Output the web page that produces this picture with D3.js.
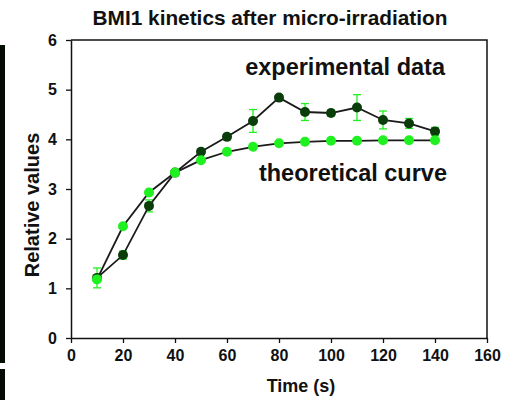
<!DOCTYPE html>
<html>
<head>
<meta charset="utf-8">
<script src="https://cdn.jsdelivr.net/npm/d3@7"></script>
<style>
  html, body { margin: 0; padding: 0; background: #fff; }
  svg { display: block; }
  text { font-family: "Liberation Sans", Arial, sans-serif; font-weight: bold; }
</style>
</head>
<body>
<svg id="chart" width="512" height="400"></svg>
<script>
const times = [10, 20, 30, 40, 50, 60, 70, 80, 90, 100, 110, 120, 130, 140];
const experimental = [1.21, 1.67, 2.66, 3.33, 3.75, 4.05, 4.37, 4.84, 4.55, 4.53, 4.64, 4.39, 4.32, 4.16];
const experimentalErr = [0.2, 0.08, 0.12, 0.05, 0.05, 0.05, 0.23, 0.05, 0.17, 0.06, 0.26, 0.18, 0.1, 0.08];
const theoretical = [1.18, 2.25, 2.93, 3.33, 3.58, 3.75, 3.85, 3.92, 3.95, 3.97, 3.97, 3.98, 3.98, 3.98];
const xTicks = [0, 20, 40, 60, 80, 100, 120, 140, 160];
const yTicks = [0, 1, 2, 3, 4, 5, 6];
const titleText = "BMI1 kinetics after micro-irradiation";
const xLabel = "Time (s)";
const yLabel = "Relative values";
const expLabel = "experimental data";
const theoLabel = "theoretical curve";

const svg = d3.select("#chart");
const mLeft = 71, mRight = 487, mTop = 40, mBottom = 338;
const x = d3.scaleLinear().domain([0, 160]).range([mLeft, mRight]);
const y = d3.scaleLinear().domain([0, 6]).range([mBottom, mTop]);

const darkGreen = "#0b3d0b";
const brightGreen = "#1ff01f";

// left black strips (image edge)
svg.append("rect").attr("x", 0).attr("y", 45).attr("width", 5).attr("height", 318).attr("fill", "#040c04");
svg.append("rect").attr("x", 0).attr("y", 369).attr("width", 5).attr("height", 31).attr("fill", "#040c04");

// plot frame (top and right)
svg.append("path")
  .attr("d", `M${mLeft},${mTop}H${mRight}V${mBottom}`)
  .attr("fill", "none").attr("stroke", "#111").attr("stroke-width", 1.5);

// axes
const yAxis = d3.axisLeft(y).tickValues(yTicks).tickSize(5).tickPadding(9).tickSizeOuter(0).tickFormat(d3.format("d"));
const gy = svg.append("g").attr("transform", `translate(${mLeft},0)`).call(yAxis);
const xAxis = d3.axisBottom(x).tickValues(xTicks).tickSize(5).tickPadding(7).tickSizeOuter(0).tickFormat(d3.format("d"));
const gx = svg.append("g").attr("transform", `translate(0,${mBottom})`).call(xAxis);
[gx, gy].forEach(g => {
  g.select(".domain").attr("stroke", "#111").attr("stroke-width", 1.5);
  g.selectAll(".tick line").attr("stroke", "#111").attr("stroke-width", 1.3);
  g.selectAll(".tick text").attr("fill", "#111").style("font-size", "16px")
    .style("font-family", "'Liberation Sans', Arial, sans-serif").style("font-weight", "bold");
});

// error bars
const eb = svg.append("g").attr("stroke", brightGreen).attr("stroke-width", 1.3).attr("fill", "none");
times.forEach((t, i) => {
  const cx = x(t), y1 = y(experimental[i] - experimentalErr[i]), y2 = y(experimental[i] + experimentalErr[i]);
  eb.append("line").attr("x1", cx).attr("x2", cx).attr("y1", y1).attr("y2", y2);
  eb.append("line").attr("x1", cx - 4).attr("x2", cx + 4).attr("y1", y1).attr("y2", y1);
  eb.append("line").attr("x1", cx - 4).attr("x2", cx + 4).attr("y1", y2).attr("y2", y2);
});

// lines
const lineGen = d3.line().x((d, i) => x(times[i])).y(d => y(d));
svg.append("path").datum(theoretical).attr("d", lineGen).attr("fill", "none").attr("stroke", "#1a1a1a").attr("stroke-width", 1.8);
svg.append("path").datum(experimental).attr("d", lineGen).attr("fill", "none").attr("stroke", "#1a1a1a").attr("stroke-width", 1.8);

// points
svg.append("g").selectAll("circle").data(experimental).join("circle")
  .attr("cx", (d, i) => x(times[i])).attr("cy", d => y(d)).attr("r", 5).attr("fill", darkGreen);
svg.append("g").selectAll("circle").data(theoretical).join("circle")
  .attr("cx", (d, i) => x(times[i])).attr("cy", d => y(d)).attr("r", 5).attr("fill", brightGreen);

// texts
svg.append("text").attr("x", 270).attr("y", 25).attr("text-anchor", "middle")
  .style("font-size", "20.8px").attr("fill", "#111").text(titleText);
svg.append("text").attr("x", 445).attr("y", 75).attr("text-anchor", "end")
  .style("font-size", "23.5px").attr("fill", "#111").text(expLabel);
svg.append("text").attr("x", 447).attr("y", 181).attr("text-anchor", "end")
  .style("font-size", "23.5px").attr("fill", "#111").text(theoLabel);
svg.append("text").attr("x", 301).attr("y", 392).attr("text-anchor", "middle")
  .style("font-size", "18px").attr("fill", "#111").text(xLabel);
svg.append("text").attr("transform", "translate(39,205) rotate(-90)").attr("text-anchor", "middle")
  .style("font-size", "20px").attr("fill", "#111").text(yLabel);
</script>
</body>
</html>
